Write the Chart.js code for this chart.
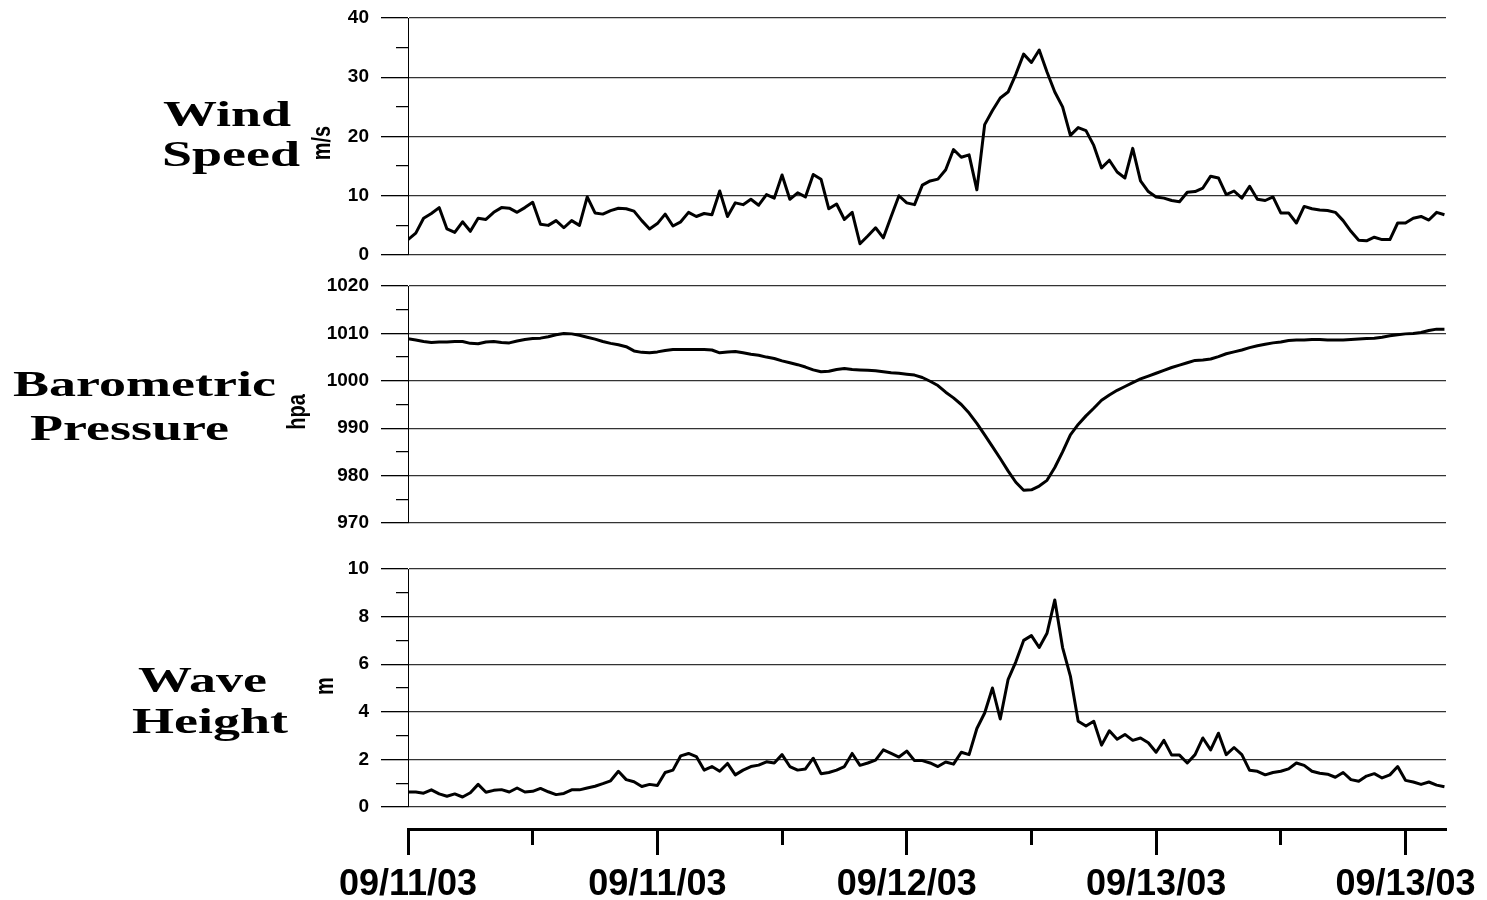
<!DOCTYPE html>
<html>
<head>
<meta charset="utf-8">
<title>Wind Speed, Barometric Pressure and Wave Height</title>
<script src="https://cdn.jsdelivr.net/npm/chart.js@4.4.0/dist/chart.umd.min.js"></script>
<style>
  body { margin: 0; background: #fff; }
  #wrap { position: relative; width: 1487px; height: 900px; overflow: hidden; background: #fff; }
  canvas { position: absolute; left: 0; }
  .title {
    position: absolute; color: #000; white-space: nowrap;
    font: bold 36px 'Liberation Serif', 'Times New Roman', serif; line-height: 36px;
    transform-origin: 0 0; transform: scaleX(1.5);
  }
  .unit {
    position: absolute; color: #000; white-space: nowrap;
    font: bold 20px 'Liberation Sans', Arial, sans-serif; line-height: 1;
    transform: translate(-50%, -50%) rotate(-90deg) scaleY(1.3);
  }
</style>
</head>
<body>
<div id="wrap">
  <canvas id="wind-chart" width="1487" height="289" style="top:-8px"></canvas>
  <canvas id="baro-chart" width="1487" height="289" style="top:260px"></canvas>
  <canvas id="wave-chart" width="1487" height="290" style="top:543px"></canvas>
  <canvas id="date-axis" width="1487" height="120" style="top:780px"></canvas>

  <div class="title" style="left:163px; top:96px">Wind</div>
  <div class="title" style="left:162px; top:136px">Speed</div>
  <div class="title" style="left:13px; top:366px">Barometric</div>
  <div class="title" style="left:30px; top:410px">Pressure</div>
  <div class="title" style="left:138px; top:662px">Wave</div>
  <div class="title" style="left:132px; top:703px">Height</div>

  <div class="unit" style="left:321px; top:143px">m/s</div>
  <div class="unit" style="left:296px; top:412px">hpa</div>
  <div class="unit" style="left:324px; top:686px">m</div>
</div>

<script>
// hours since start of record, one reading every half hour
const hours = [
  0, 0.5, 1, 1.5, 2, 2.5, 3, 3.5, 4, 4.5, 5, 5.5, 6, 6.5, 7, 7.5, 8, 8.5, 9, 9.5,
  10, 10.5, 11, 11.5, 12, 12.5, 13, 13.5, 14, 14.5, 15, 15.5, 16, 16.5, 17, 17.5, 18, 18.5, 19, 19.5,
  20, 20.5, 21, 21.5, 22, 22.5, 23, 23.5, 24, 24.5, 25, 25.5, 26, 26.5, 27, 27.5, 28, 28.5, 29, 29.5,
  30, 30.5, 31, 31.5, 32, 32.5, 33, 33.5, 34, 34.5, 35, 35.5, 36, 36.5, 37, 37.5, 38, 38.5, 39, 39.5,
  40, 40.5, 41, 41.5, 42, 42.5, 43, 43.5, 44, 44.5, 45, 45.5, 46, 46.5, 47, 47.5, 48, 48.5, 49, 49.5,
  50, 50.5, 51, 51.5, 52, 52.5, 53, 53.5, 54, 54.5, 55, 55.5, 56, 56.5, 57, 57.5, 58, 58.5, 59, 59.5,
  60, 60.5, 61, 61.5, 62, 62.5, 63, 63.5, 64, 64.5, 65, 65.5, 66, 66.5
];

// m/s
const windSpeed = [
  2.6, 3.7, 6.2, 7.0, 8.0, 4.4, 3.8, 5.6, 4.0, 6.2,
  6.0, 7.2, 8.0, 7.9, 7.2, 8.0, 8.9, 5.2, 5.0, 5.8,
  4.6, 5.8, 5.0, 9.8, 7.1, 6.9, 7.5, 7.9, 7.8, 7.4,
  5.8, 4.4, 5.3, 6.9, 4.9, 5.6, 7.2, 6.5, 7.0, 6.8,
  10.8, 6.5, 8.8, 8.5, 9.4, 8.4, 10.2, 9.6, 13.5, 9.4,
  10.5, 9.8, 13.6, 12.8, 7.8, 8.6, 6.0, 7.2, 1.9, 3.2,
  4.6, 2.9, 6.5, 10.0, 8.8, 8.5, 11.8, 12.5, 12.8, 14.4,
  17.8, 16.5, 16.9, 11.0, 22.0, 24.4, 26.5, 27.5, 30.5, 33.9,
  32.5, 34.6, 30.9, 27.5, 25.0, 20.2, 21.5, 21.0, 18.5, 14.7,
  16.0, 14.0, 13.0, 18.0, 12.5, 10.7, 9.8, 9.6, 9.2, 9.0,
  10.6, 10.7, 11.3, 13.3, 13.0, 10.2, 10.8, 9.6, 11.6, 9.4,
  9.2, 9.8, 7.1, 7.1, 5.4, 8.2, 7.8, 7.6, 7.5, 7.2,
  5.8, 4.0, 2.5, 2.4, 3.0, 2.6, 2.6, 5.4, 5.4, 6.2,
  6.5, 5.9, 7.2, 6.8
];

// hpa
const pressure = [
  1008.9, 1008.6, 1008.3, 1008.1, 1008.2, 1008.2, 1008.3, 1008.3, 1007.9, 1007.8,
  1008.2, 1008.3, 1008.1, 1008.0, 1008.4, 1008.7, 1008.9, 1009.0, 1009.3, 1009.7,
  1010.0, 1009.9, 1009.6, 1009.2, 1008.8, 1008.3, 1007.9, 1007.6, 1007.2, 1006.3,
  1006.0, 1005.9, 1006.1, 1006.4, 1006.6, 1006.6, 1006.6, 1006.6, 1006.6, 1006.5,
  1005.9, 1006.1, 1006.2, 1005.9, 1005.6, 1005.4, 1005.0, 1004.7, 1004.2, 1003.8,
  1003.4, 1002.9, 1002.3, 1001.9, 1002.0, 1002.4, 1002.6, 1002.4, 1002.3, 1002.2,
  1002.1, 1001.9, 1001.7, 1001.6, 1001.4, 1001.2, 1000.7, 999.9, 999.0, 997.6,
  996.4, 995.0, 993.2, 991.0, 988.6, 986.1, 983.6, 981.0, 978.6, 976.9,
  977.0, 977.8, 979.0, 981.7, 985.0, 988.6, 990.8, 992.6, 994.2, 995.9,
  997.0, 998.0, 998.8, 999.6, 1000.4, 1001.0, 1001.6, 1002.2, 1002.8, 1003.3,
  1003.8, 1004.3, 1004.4, 1004.6, 1005.1, 1005.7, 1006.1, 1006.5, 1007.0, 1007.4,
  1007.7, 1008.0, 1008.2, 1008.5, 1008.6, 1008.6, 1008.7, 1008.7, 1008.6, 1008.6,
  1008.6, 1008.7, 1008.8, 1008.9, 1009.0, 1009.2, 1009.5, 1009.7, 1009.9, 1010.0,
  1010.2, 1010.6, 1010.9, 1010.9
];

// m
const waveHeight = [
  0.63, 0.63, 0.58, 0.72, 0.55, 0.45, 0.55, 0.42, 0.60, 0.95,
  0.62, 0.70, 0.73, 0.63, 0.80, 0.63, 0.66, 0.78, 0.64, 0.52,
  0.57, 0.72, 0.72, 0.80, 0.87, 0.98, 1.10, 1.50, 1.15, 1.06,
  0.86, 0.95, 0.90, 1.45, 1.55, 2.15, 2.25, 2.12, 1.55, 1.70,
  1.50, 1.83, 1.35, 1.55, 1.70, 1.76, 1.90, 1.85, 2.20, 1.70,
  1.55, 1.60, 2.05, 1.40, 1.45, 1.55, 1.70, 2.25, 1.75, 1.85,
  1.97, 2.40, 2.25, 2.10, 2.35, 1.95, 1.95, 1.85, 1.70, 1.89,
  1.80, 2.30, 2.20, 3.30, 3.95, 5.00, 3.70, 5.35, 6.10, 7.00,
  7.20, 6.70, 7.30, 8.70, 6.70, 5.50, 3.60, 3.40, 3.60, 2.60,
  3.20, 2.85, 3.05, 2.80, 2.90, 2.70, 2.30, 2.80, 2.18, 2.18,
  1.85, 2.20, 2.90, 2.40, 3.10, 2.20, 2.50, 2.20, 1.54, 1.50,
  1.35, 1.45, 1.50, 1.60, 1.85, 1.75, 1.50, 1.42, 1.38, 1.25,
  1.45, 1.15, 1.08, 1.30, 1.40, 1.22, 1.35, 1.70, 1.12, 1.05,
  0.95, 1.05, 0.92, 0.85
];

// one label every 16 hours, minor tick halfway between
const dateTicks = [0, 16, 32, 48, 64];
const dateLabels = ['09/11/03', '09/11/03', '09/12/03', '09/13/03', '09/13/03'];

const xMax = 66.6;

Chart.defaults.font.family = "'Liberation Sans', Arial, sans-serif";
Chart.defaults.color = '#000';

function panelChart(id, values, yMin, yMax, step, labelEvery) {
  const ctx = document.getElementById(id).getContext('2d');
  const isMajor = v => Math.abs(v % labelEvery) < 1e-6;

  return new Chart(ctx, {
    type: 'line',
    data: {
      datasets: [{
        data: hours.map((h, i) => ({ x: h, y: values[i] })),
        borderColor: '#000',
        borderWidth: 3,
        borderJoinStyle: 'round',
        pointRadius: 0,
        tension: 0,
        fill: false
      }]
    },
    options: {
      responsive: false,
      animation: false,
      // 26px above and below the plot, canvases are placed to match
      layout: { padding: { top: 26, bottom: 26, left: 0, right: 41 } },
      plugins: { legend: { display: false }, tooltip: { enabled: false } },
      scales: {
        x: { type: 'linear', min: 0, max: xMax, display: false },
        y: {
          min: yMin,
          max: yMax,
          afterFit: scale => { scale.width = 408; },
          border: { display: true, color: '#000', width: 1 },
          grid: {
            color: c => isMajor(c.tick.value) ? '#333' : 'rgba(0,0,0,0)',
            lineWidth: 1.3,
            drawTicks: true,
            tickLength: 27,
            tickColor: '#000',
            tickWidth: 1.3,
            tickBorderDash: c => isMajor(c.tick.value) ? [] : [0, 15, 12, 100]
          },
          ticks: {
            stepSize: step,
            autoSkip: false,
            padding: 12,
            font: { size: 19, weight: 'bold' },
            callback: v => isMajor(v) ? v : ''
          }
        }
      }
    }
  });
}

const windChart = panelChart('wind-chart', windSpeed, 0, 40, 5, 10);
const baroChart = panelChart('baro-chart', pressure, 970, 1020, 5, 10);
const waveChart = panelChart('wave-chart', waveHeight, 0, 10, 1, 2);

const dateChart = new Chart(document.getElementById('date-axis').getContext('2d'), {
  type: 'line',
  data: { datasets: [] },
  options: {
    responsive: false,
    animation: false,
    layout: { padding: { top: 0, bottom: 0, left: 408, right: 41 } },
    plugins: { legend: { display: false }, tooltip: { enabled: false } },
    scales: {
      x: {
        type: 'linear',
        position: 'bottom',
        min: 0,
        max: xMax,
        afterFit: scale => { scale.height = 71; },
        border: { display: true, color: '#000', width: 3 },
        grid: {
          drawOnChartArea: false,
          tickLength: 26,
          tickColor: '#000',
          tickWidth: 3,
          tickBorderDash: c => dateTicks.includes(c.tick.value) ? [] : [14, 100]
        },
        ticks: {
          stepSize: 8,
          includeBounds: false,
          autoSkip: false,
          maxRotation: 0,
          padding: 8,
          font: { size: 36, weight: 'bold' },
          callback: v => {
            const k = dateTicks.indexOf(v);
            return k >= 0 ? dateLabels[k] : '';
          }
        }
      },
      y: { display: false }
    }
  }
});
</script>
</body>
</html>
